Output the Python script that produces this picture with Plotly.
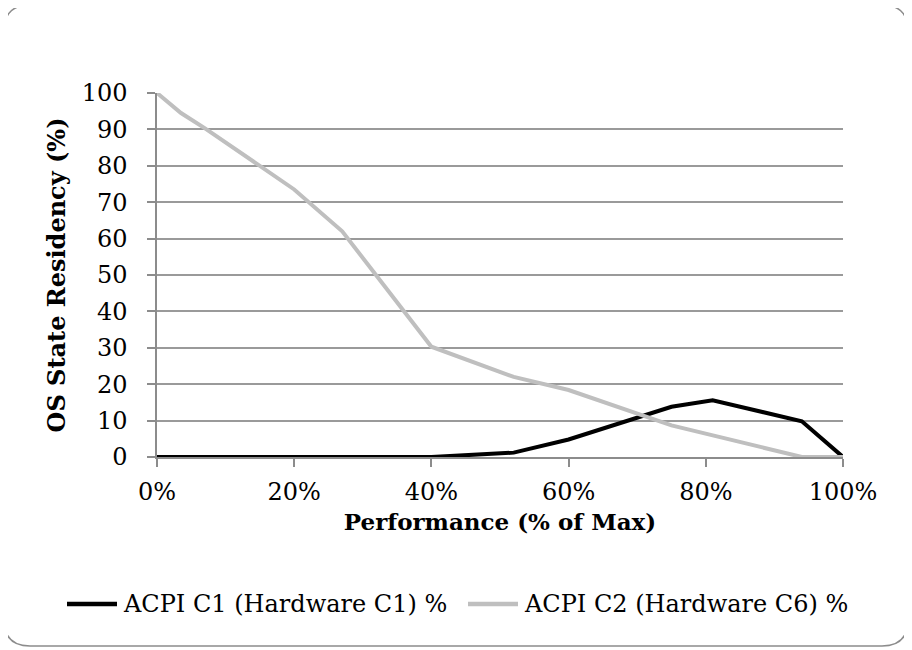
import plotly.graph_objects as go

# performance (% of max) and residency values
perf = [0, 3.5, 7, 20, 27, 40, 52, 60, 75, 81, 94, 100]
c1 = [0, 0, 0, 0, 0, 0, 1.2, 4.8, 13.8, 15.6, 9.8, 0]
c2 = [100, 94.5, 90.3, 73.5, 62, 30.3, 22, 18.4, 8.7, 6, 0, 0]
names = ["ACPI C1 (Hardware C1) %", "ACPI C2 (Hardware C6) %"]
colors = ["black", "#bfbfbf"]
y_ticks = list(range(0, 101, 10))
x_ticks = [0, 20, 40, 60, 80, 100]
x_labels = ["0%", "20%", "40%", "60%", "80%", "100%"]

# page body adds an 8px margin, so the figure is laid out in screen px minus 8
OFF = 8
W, H = 912 - OFF, 650 - OFF
L, R, T, B = 157 - OFF, 843 - OFF, 93 - OFF, 457 - OFF


def px(x):
    # screen x -> paper coordinate
    return (x - OFF - L) / (R - L)


def py(y):
    return (B - (y - OFF)) / (B - T)


fig = go.Figure()
for vals, name, col in zip([c1, c2], names, colors):
    fig.add_trace(go.Scatter(x=perf, y=vals, mode="lines", name=name,
                             line=dict(color=col, width=4), showlegend=False))

# rounded frame around the whole chart
x0, x1, y0, y1, r = 4, 908, 5, 646, 26
path = (f"M {px(x0 + r)},{py(y0)} L {px(x1 - r)},{py(y0)} "
        f"Q {px(x1)},{py(y0)} {px(x1)},{py(y0 + r)} L {px(x1)},{py(y1 - r)} "
        f"Q {px(x1)},{py(y1)} {px(x1 - r)},{py(y1)} L {px(x0 + r)},{py(y1)} "
        f"Q {px(x0)},{py(y1)} {px(x0)},{py(y1 - r)} L {px(x0)},{py(y0 + r)} "
        f"Q {px(x0)},{py(y0)} {px(x0 + r)},{py(y0)} Z")
fig.add_shape(type="path", path=path, xref="paper", yref="paper",
              line=dict(color="#8c8c8c", width=1.5), layer="below")

serif = "DejaVu Serif"

# legend drawn by hand so the line samples and spacing match the original
leg_y = 604
for (lx0, lx1, tx), name, col in zip([(67, 117, 121), (468, 518, 522)], names, colors):
    fig.add_shape(type="line", xref="paper", yref="paper",
                  x0=px(lx0), x1=px(lx1), y0=py(leg_y), y1=py(leg_y),
                  line=dict(color=col, width=4.5))
    fig.add_annotation(text=name, xref="paper", yref="paper", x=px(tx), y=py(leg_y),
                       xanchor="left", yanchor="middle", showarrow=False,
                       font=dict(family=serif, size=24, color="black"))

fig.update_layout(
    width=W, height=H,
    margin=dict(l=L, r=W - R, t=T, b=H - B),
    plot_bgcolor="white", paper_bgcolor="white",
    font=dict(family=serif, color="black", size=24),
    showlegend=False,
)
fig.update_xaxes(range=[0, 100], tickvals=x_ticks, ticktext=x_labels,
                 showgrid=False, zeroline=False, automargin=False,
                 showline=True, linecolor="#8c8c8c", linewidth=1.5,
                 ticks="outside", ticklen=8, tickcolor="#8c8c8c", tickwidth=1.5,
                 ticklabelstandoff=4,
                 title=dict(text="<b>Performance (% of Max)</b>", font=dict(size=23, family=serif),
                            standoff=9))
fig.update_yaxes(range=[0, 100], tickvals=y_ticks,
                 showgrid=True, gridcolor="#9a9a9a", gridwidth=1.5, zeroline=False, automargin=False,
                 showline=True, linecolor="#8c8c8c", linewidth=1.5,
                 ticks="outside", ticklen=8, tickcolor="#8c8c8c", tickwidth=1.5,
                 ticklabelstandoff=15,
                 title=dict(text="<b>OS State Residency (%)</b>", font=dict(size=24, family=serif),
                            standoff=9))

fig.write_html("out.html")
